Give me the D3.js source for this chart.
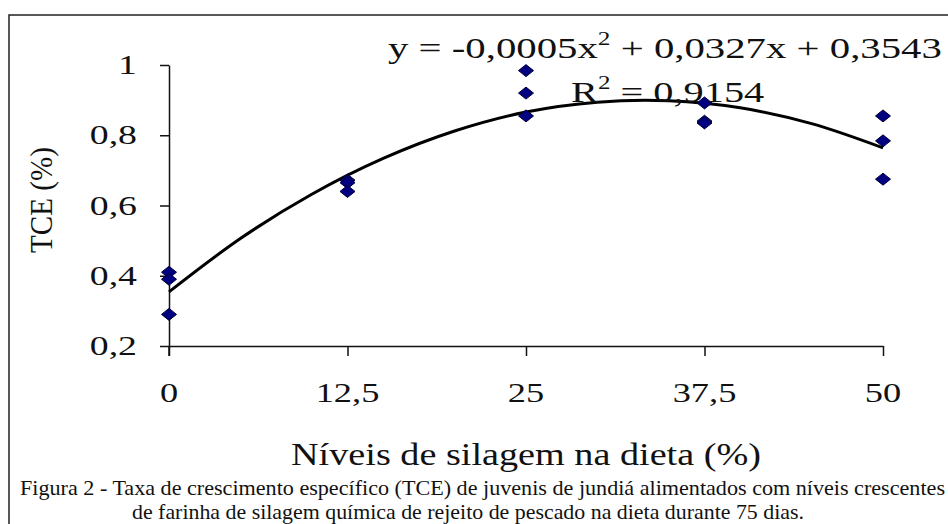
<!DOCTYPE html>
<html>
<head>
<meta charset="utf-8">
<script src="https://cdn.jsdelivr.net/npm/d3@7"></script>
<style>
  body { margin: 0; background: #fff; }
  svg { display: block; }
  text { font-family: "Liberation Serif", "Times New Roman", serif; fill: #111; }
</style>
</head>
<body>
<div id="chart"></div>
<script>
// levels of silage in the diet (%)
const levels = [0, 12.5, 25, 37.5, 50];
// observed TCE (%) per level, three replicates each
const obsLevel = [0, 0, 0, 12.5, 12.5, 12.5, 25, 25, 25, 37.5, 37.5, 37.5, 50, 50, 50];
const obsTce = [0.41, 0.39, 0.29, 0.672, 0.665, 0.64, 0.984, 0.92, 0.855, 0.892, 0.84, 0.835, 0.855, 0.784, 0.675];
// fitted trend line
const trendX = [0, 5, 10, 15, 20, 25, 30, 35, 40, 45, 50];
const trendY = [0.354, 0.506, 0.632, 0.734, 0.812, 0.866, 0.894, 0.898, 0.878, 0.833, 0.764];
const yTicks = [0.2, 0.4, 0.6, 0.8, 1];
const yTickLabels = ["0,2", "0,4", "0,6", "0,8", "1"];
const xTickLabels = ["0", "12,5", "25", "37,5", "50"];

const W = 948, H = 524;
const svg = d3.select("#chart").append("svg")
  .attr("width", W)
  .attr("height", H);

// widen text horizontally like the scanned figure
function stretch(sel, x0, y0, k) {
  sel.attr("transform", `translate(${x0},${y0}) scale(${k},1)`);
}
function fitWidth(sel, x0, y0, target) {
  const w = sel.node().getBBox().width;
  stretch(sel, x0, y0, target / w);
}

// frame (top + left only visible)
svg.append("path")
  .attr("d", "M9,524 L9,15 L948,15")
  .attr("fill", "none")
  .attr("stroke", "#222")
  .attr("stroke-width", 1.5);

const x = d3.scaleLinear().domain([0, 50]).range([169, 883]);
const y = d3.scaleLinear().domain([0.2, 1]).range([346, 65]);

// y axis
const yAxis = svg.append("g")
  .attr("transform", `translate(${x(0)},0)`)
  .call(d3.axisLeft(y).tickValues(yTicks).tickSize(9).tickSizeOuter(0).tickFormat(""));
yAxis.selectAll("line, path").attr("stroke", "#111").attr("stroke-width", 1.5);

// extend y axis below x axis (Excel style cross)
svg.append("line")
  .attr("x1", x(0)).attr("x2", x(0))
  .attr("y1", y(0.2)).attr("y2", y(0.2) + 10)
  .attr("stroke", "#111").attr("stroke-width", 1.5);

svg.selectAll(".ylab")
  .data(yTicks)
  .join("text")
  .attr("class", "ylab")
  .attr("text-anchor", "end")
  .attr("font-size", 28)
  .attr("transform", d => `translate(137,${y(d) + 9}) scale(1.35,1)`)
  .text((d, i) => yTickLabels[i]);

// x axis
const xAxis = svg.append("g")
  .attr("transform", `translate(0,${y(0.2)})`)
  .call(d3.axisBottom(x).tickValues(levels).tickSize(10).tickSizeOuter(0).tickFormat(""));
xAxis.selectAll("line, path").attr("stroke", "#111").attr("stroke-width", 1.5);

svg.selectAll(".xlab")
  .data(levels)
  .join("text")
  .attr("class", "xlab")
  .attr("text-anchor", "middle")
  .attr("font-size", 28)
  .attr("transform", d => `translate(${x(d)},402) scale(1.3,1)`)
  .text((d, i) => xTickLabels[i]);

// axis titles
svg.append("text")
  .attr("transform", "translate(52,200) rotate(-90)")
  .attr("text-anchor", "middle")
  .attr("font-size", 31)
  .attr("textLength", 106)
  .attr("lengthAdjust", "spacingAndGlyphs")
  .text("TCE (%)");

svg.append("text")
  .attr("x", 291)
  .attr("y", 465)
  .attr("font-size", 31)
  .attr("textLength", 470)
  .attr("lengthAdjust", "spacingAndGlyphs")
  .text("Níveis de silagem na dieta (%)");

// trend line
const line = d3.line()
  .x(d => x(d[0]))
  .y(d => y(d[1]))
  .curve(d3.curveCatmullRom);

svg.append("path")
  .datum(trendX.map((v, i) => [v, trendY[i]]))
  .attr("d", line)
  .attr("fill", "none")
  .attr("stroke", "#000")
  .attr("stroke-width", 3);

// points
const diamond = "M0,-6 L7.5,0 L0,6 L-7.5,0 Z";
svg.selectAll(".pt")
  .data(obsTce)
  .join("path")
  .attr("class", "pt")
  .attr("d", diamond)
  .attr("transform", (d, i) => `translate(${x(obsLevel[i])},${y(d)})`)
  .attr("fill", "#000080")
  .attr("stroke", "#000033")
  .attr("stroke-width", 1);

// equation and R²
const eq = svg.append("text")
  .attr("font-size", 29);
eq.append("tspan").text("y = -0,0005x");
eq.append("tspan").attr("font-size", 18).attr("dy", -13).text("2");
eq.append("tspan").attr("dy", 13).text(" + 0,0327x + 0,3543");
fitWidth(eq, 388, 58, 554);

const r2 = svg.append("text")
  .attr("font-size", 29);
r2.append("tspan").text("R");
r2.append("tspan").attr("font-size", 18).attr("dy", -13).text("2");
r2.append("tspan").attr("dy", 13).text(" = 0,9154");
fitWidth(r2, 571, 102, 194);

// caption
svg.append("text")
  .attr("x", 20)
  .attr("y", 495)
  .attr("font-size", 21)
  .attr("textLength", 925)
  .attr("lengthAdjust", "spacingAndGlyphs")
  .text("Figura 2 - Taxa de crescimento específico (TCE) de juvenis de jundiá alimentados com níveis crescentes");

svg.append("text")
  .attr("x", 132)
  .attr("y", 519)
  .attr("font-size", 21)
  .attr("textLength", 672)
  .attr("lengthAdjust", "spacingAndGlyphs")
  .text("de farinha de silagem química de rejeito de pescado na dieta durante 75 dias.");
</script>
</body>
</html>
